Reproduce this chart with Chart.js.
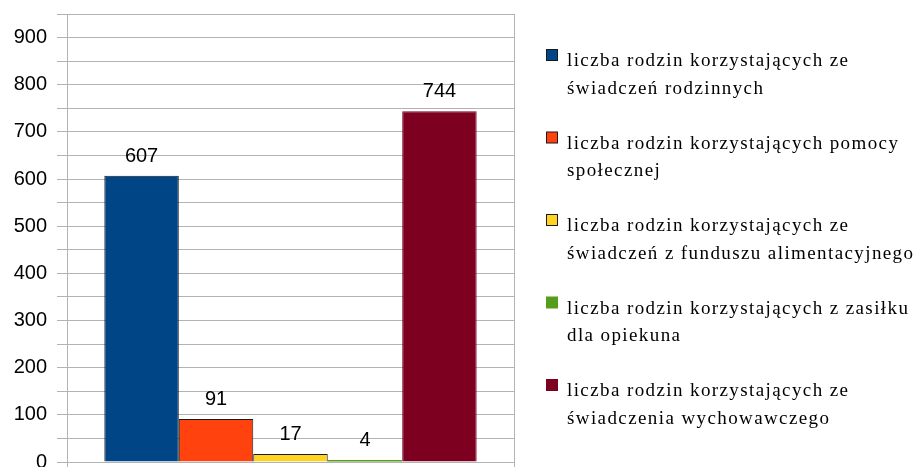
<!DOCTYPE html>
<html lang="pl">
<head>
    <meta charset="UTF-8">
    <title>Wykres</title>
    <script src="https://cdn.jsdelivr.net/npm/chart.js"></script>
    <style>
        html, body { margin: 0; padding: 0; background: #fff; }
        #wrap { width: 916px; height: 467px; overflow: hidden; }
        canvas { display: block; }
    </style>
</head>
<body>
    <div id="wrap"><canvas id="chart" width="916" height="473"></canvas></div>
    <script>
    // dane wykresu
    const categories = [''];
    const seriesLabels = [
        ['liczba rodzin korzystających ze', 'świadczeń rodzinnych'],
        ['liczba rodzin korzystających pomocy', 'społecznej'],
        ['liczba rodzin korzystających ze', 'świadczeń z funduszu alimentacyjnego'],
        ['liczba rodzin korzystających z zasiłku', 'dla opiekuna'],
        ['liczba rodzin korzystających ze', 'świadczenia wychowawczego']
    ];
    const seriesValues = [607, 91, 17, 4, 744];
    const seriesColors = ['#004586', '#ff420e', '#ffd320', '#579d1c', '#7e0021'];
    const seriesBorders = ['#1a1a1a', '#1a1a1a', '#1a1a1a', '#579d1c', '#7e0021'];

    // wartości nad słupkami
    const valueLabels = {
        id: 'valueLabels',
        afterDatasetsDraw(chart) {
            const ctx = chart.ctx;
            ctx.save();
            ctx.font = '20px "Liberation Sans", Arial, sans-serif';
            ctx.fillStyle = '#000';
            ctx.textAlign = 'center';
            ctx.textBaseline = 'alphabetic';
            chart.data.datasets.forEach((ds, i) => {
                const bar = chart.getDatasetMeta(i).data[0];
                ctx.fillText(String(ds.data[0]), bar.x, bar.y - 14);
            });
            ctx.restore();
        }
    };

    // legenda po prawej (dwie linie tekstu)
    const sideLegend = {
        id: 'sideLegend',
        afterDraw(chart) {
            const ctx = chart.ctx;
            ctx.save();
            ctx.font = '19px "Liberation Serif", "Times New Roman", serif';
            ctx.letterSpacing = '1.4px';
            ctx.textBaseline = 'alphabetic';
            let y = 66;
            chart.data.datasets.forEach((ds, i) => {
                ctx.fillStyle = seriesColors[i];
                ctx.fillRect(546.5, y - 16.5, 11, 11);
                ctx.strokeStyle = seriesBorders[i];
                ctx.lineWidth = 1;
                ctx.strokeRect(546.5, y - 16.5, 11, 11);
                ctx.fillStyle = '#000';
                seriesLabels[i].forEach((line, j) => {
                    ctx.fillText(line, 567, y + j * 27.5);
                });
                y += 82.5;
            });
            ctx.restore();
        }
    };

    const ctx = document.getElementById('chart').getContext('2d');
    const chart = new Chart(ctx, {
        type: 'bar',
        data: {
            labels: categories,
            datasets: seriesValues.map((v, i) => ({
                label: seriesLabels[i].join(' '),
                data: [v],
                backgroundColor: seriesColors[i],
                borderColor: seriesBorders[i],
                borderWidth: i === 3 ? 0 : 1,
                borderSkipped: 'bottom',
                categoryPercentage: 0.833,
                barPercentage: 1
            }))
        },
        options: {
            responsive: false,
            animation: false,
            layout: {
                padding: { left: 0, right: 402, top: 14, bottom: 0 }
            },
            plugins: {
                legend: { display: false },
                tooltip: { enabled: false }
            },
            scales: {
                x: {
                    offset: true,
                    grid: {
                        offset: true,
                        color: '#b3b3b3',
                        tickLength: 10,
                        drawTicks: true
                    },
                    border: { color: '#b3b3b3' },
                    ticks: { display: false },
                    afterFit(scale) { scale.height = 0; }
                },
                y: {
                    min: 0,
                    max: 950,
                    grid: {
                        color: '#b3b3b3',
                        tickLength: 10
                    },
                    border: { color: '#b3b3b3' },
                    ticks: {
                        stepSize: 50,
                        autoSkip: false,
                        padding: 10,
                        color: '#000',
                        font: { family: '"Liberation Sans", Arial, sans-serif', size: 20, lineHeight: 0.1 },
                        callback: v => (v % 100 === 0 ? v : '')
                    },
                    afterFit(scale) { scale.width = 67; }
                }
            }
        },
        plugins: [valueLabels, sideLegend]
    });
    </script>
</body>
</html>
